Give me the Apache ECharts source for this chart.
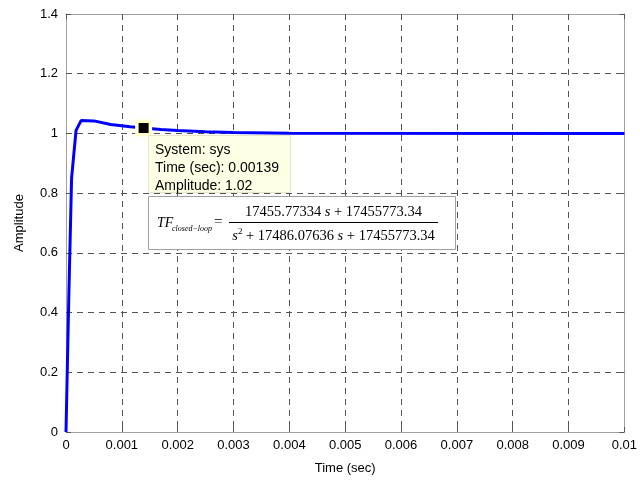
<!DOCTYPE html>
<html>
<head>
<meta charset="utf-8">
<script src="https://cdn.jsdelivr.net/npm/echarts@6/dist/echarts.min.js"></script>
<style>
html,body{margin:0;padding:0;background:#fff;}
#c{width:640px;height:481px;}
</style>
</head>
<body>
<div id="c"></div>
<script>
// ---- data ----
const timeSec = [0, 0.00005, 0.0001, 0.00018, 0.00027, 0.0005, 0.0008, 0.00115, 0.00139, 0.0017, 0.002, 0.0025, 0.003, 0.004, 0.01];
const amplitude = [0, 0.45, 0.85, 1.01, 1.043, 1.042, 1.03, 1.022, 1.018, 1.013, 1.01, 1.006, 1.003, 1.001, 1.0];
const markerPoint = [0.00139, 1.018];
const xTickLabels = ['0', '0.001', '0.002', '0.003', '0.004', '0.005', '0.006', '0.007', '0.008', '0.009', '0.01'];
const yTickLabels = ['0', '0.2', '0.4', '0.6', '0.8', '1', '1.2', '1.4'];
const tipLines = ['System: sys', 'Time (sec): 0.00139', 'Amplitude: 1.02'];

const FONT = "'Liberation Sans', Arial, sans-serif";
const SERIF = "'Liberation Serif', 'Times New Roman', serif";

const chart = echarts.init(document.getElementById('c'), null, {renderer: 'canvas'});

const gridLine = {show: true, lineStyle: {color: '#555', width: 1, type: [6, 5]}};
const axisLine = {show: true, onZero: false, lineStyle: {color: '#a0a0a0', width: 1}};
const tick = {show: true, inside: true, length: 5, lineStyle: {color: '#555'}};

const option = {
  animation: false,
  backgroundColor: '#fff',
  grid: {left: 66, right: 10, top: 14, bottom: 49, containLabel: false},
  xAxis: [{
    type: 'value', min: 0, max: 0.01, interval: 0.001,
    name: 'Time (sec)', nameLocation: 'middle', nameGap: 30,
    nameTextStyle: {color: '#000', fontSize: 13, fontFamily: FONT},
    axisLine: axisLine, axisTick: tick, splitLine: gridLine,
    axisLabel: {color: '#000', fontSize: 13, fontFamily: FONT, margin: 7,
      formatter: v => xTickLabels[Math.round(v / 0.001)]}
  }, {
    type: 'value', position: 'top', min: 0, max: 0.01, interval: 0.001,
    axisLine: axisLine, axisTick: tick, splitLine: {show: false}, axisLabel: {show: false}
  }],
  yAxis: [{
    type: 'value', min: 0, max: 1.4, interval: 0.2,
    name: 'Amplitude', nameLocation: 'middle', nameGap: 40,
    nameTextStyle: {color: '#000', fontSize: 13, fontFamily: FONT},
    axisLine: axisLine, axisTick: tick, splitLine: gridLine,
    axisLabel: {color: '#000', fontSize: 13, fontFamily: FONT, margin: 8,
      formatter: v => yTickLabels[Math.round(v / 0.2)]}
  }, {
    type: 'value', position: 'right', min: 0, max: 1.4, interval: 0.2,
    axisLine: axisLine, axisTick: tick, splitLine: {show: false}, axisLabel: {show: false}
  }],
  series: [{
    type: 'line',
    data: timeSec.map((t, i) => [t, amplitude[i]]),
    showSymbol: false, symbol: 'none',
    lineStyle: {color: '#0000ff', width: 3},
    z: 3
  }, {
    type: 'scatter',
    data: [markerPoint],
    symbol: 'rect', symbolSize: 13.5,
    itemStyle: {color: '#000', borderColor: '#ffffd0', borderWidth: 3.5, opacity: 1},
    z: 5
  }],
  graphic: [
    // data tip box
    {type: 'rect', shape: {x: 148.5, y: 135.5, width: 142, height: 57},
     style: {fill: '#ffffe6', stroke: '#e8e8c8', lineWidth: 1}, z: 10},
    {type: 'text', x: 155, y: 150, style: {text: tipLines[0], font: '14px ' + FONT, fill: '#000', verticalAlign: 'middle'}, z: 11},
    {type: 'text', x: 155, y: 168, style: {text: tipLines[1], font: '14px ' + FONT, fill: '#000', verticalAlign: 'middle'}, z: 11},
    {type: 'text', x: 155, y: 186, style: {text: tipLines[2], font: '14px ' + FONT, fill: '#000', verticalAlign: 'middle'}, z: 11},
    // formula box
    {type: 'rect', shape: {x: 148.5, y: 196.5, width: 307, height: 53},
     style: {fill: '#fff', stroke: '#a0a0a0', lineWidth: 1}, z: 10},
    {type: 'text', x: 157, y: 223, style: {text: 'TF', font: 'italic 14px ' + SERIF, fill: '#000', verticalAlign: 'middle'}, z: 11},
    {type: 'text', x: 172, y: 229, style: {text: 'closed\u2212loop', font: 'italic 8px ' + SERIF, fill: '#000', verticalAlign: 'middle'}, z: 11},
    {type: 'text', x: 214, y: 222, style: {text: '=', font: '15px ' + SERIF, fill: '#000', verticalAlign: 'middle'}, z: 11},
    {type: 'line', shape: {x1: 229, y1: 222.5, x2: 438, y2: 222.5}, style: {stroke: '#000', lineWidth: 1}, z: 11},
    {type: 'text', x: 333.5, y: 212, style: {
      text: '{n|17455.77334}{i| s}{n| + 17455773.34}',
      align: 'center', verticalAlign: 'middle',
      rich: {n: {font: '14.5px ' + SERIF, fill: '#000'}, i: {font: 'italic 14.5px ' + SERIF, fill: '#000'}}
    }, z: 11},
    {type: 'text', x: 333.5, y: 236, style: {
      text: '{i|s}{sup|2}{n| + 17486.07636 }{i|s}{n| + 17455773.34}',
      align: 'center', verticalAlign: 'middle',
      rich: {
        n: {font: '14.5px ' + SERIF, fill: '#000', lineHeight: 18},
        i: {font: 'italic 14.5px ' + SERIF, fill: '#000', lineHeight: 18},
        sup: {font: '9px ' + SERIF, fill: '#000', lineHeight: 10, verticalAlign: 'top'}
      }
    }, z: 11}
  ]
};
chart.setOption(option);
</script>
</body>
</html>
